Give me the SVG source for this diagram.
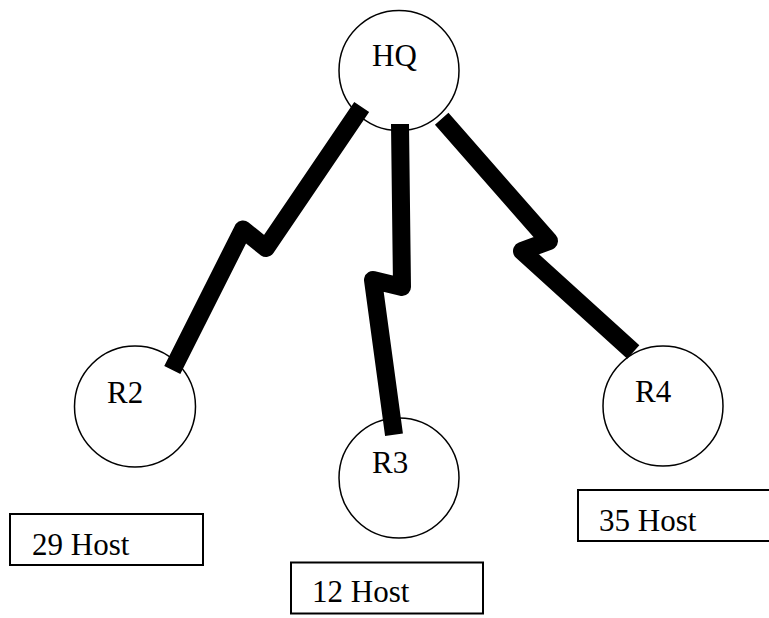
<svg xmlns="http://www.w3.org/2000/svg" width="769" height="618" viewBox="0 0 769 618">
<style>
.node circle{fill:#fff;stroke:#000;stroke-width:1.5}
.box rect{fill:#fff;stroke:#000;stroke-width:2}
.t{font-family:'Liberation Serif','Times New Roman',Times,serif;font-size:31px;fill:#000}
.link{fill:none;stroke:#000;stroke-width:18;stroke-linejoin:round;stroke-linecap:butt}
</style>
<rect width="769" height="618" fill="#fff"/>
<g id="HQ" class="node"><circle cx="399" cy="70.5" r="60"/><text class="t" x="372" y="66">HQ</text></g>
<g id="R2" class="node"><circle cx="135" cy="406.5" r="60.5"/><text class="t" x="107" y="403">R2</text></g>
<g id="R3" class="node"><circle cx="399" cy="478" r="60"/><text class="t" x="372" y="473">R3</text></g>
<g id="R4" class="node"><circle cx="663" cy="406" r="60"/><text class="t" x="635" y="402">R4</text></g>
<g id="connectors">
<polyline class="link" points="361.7,107 266,248 243,229.5 172.3,370"/>
<polyline class="link" points="400,124 402,287 373,280 394,434.7"/>
<polyline class="link" points="441.7,118.8 549,241 522,251 633.3,352"/>
</g>
<g id="box29" class="box"><rect x="10" y="514" width="193" height="51"/><text class="t" x="32" y="555">29 Host</text></g>
<g id="box12" class="box"><rect x="291" y="562.5" width="192" height="51"/><text class="t" x="312" y="602">12 Host</text></g>
<g id="box35" class="box"><rect x="578" y="490" width="193" height="51"/><text class="t" x="599" y="531">35 Host</text></g>
</svg>
